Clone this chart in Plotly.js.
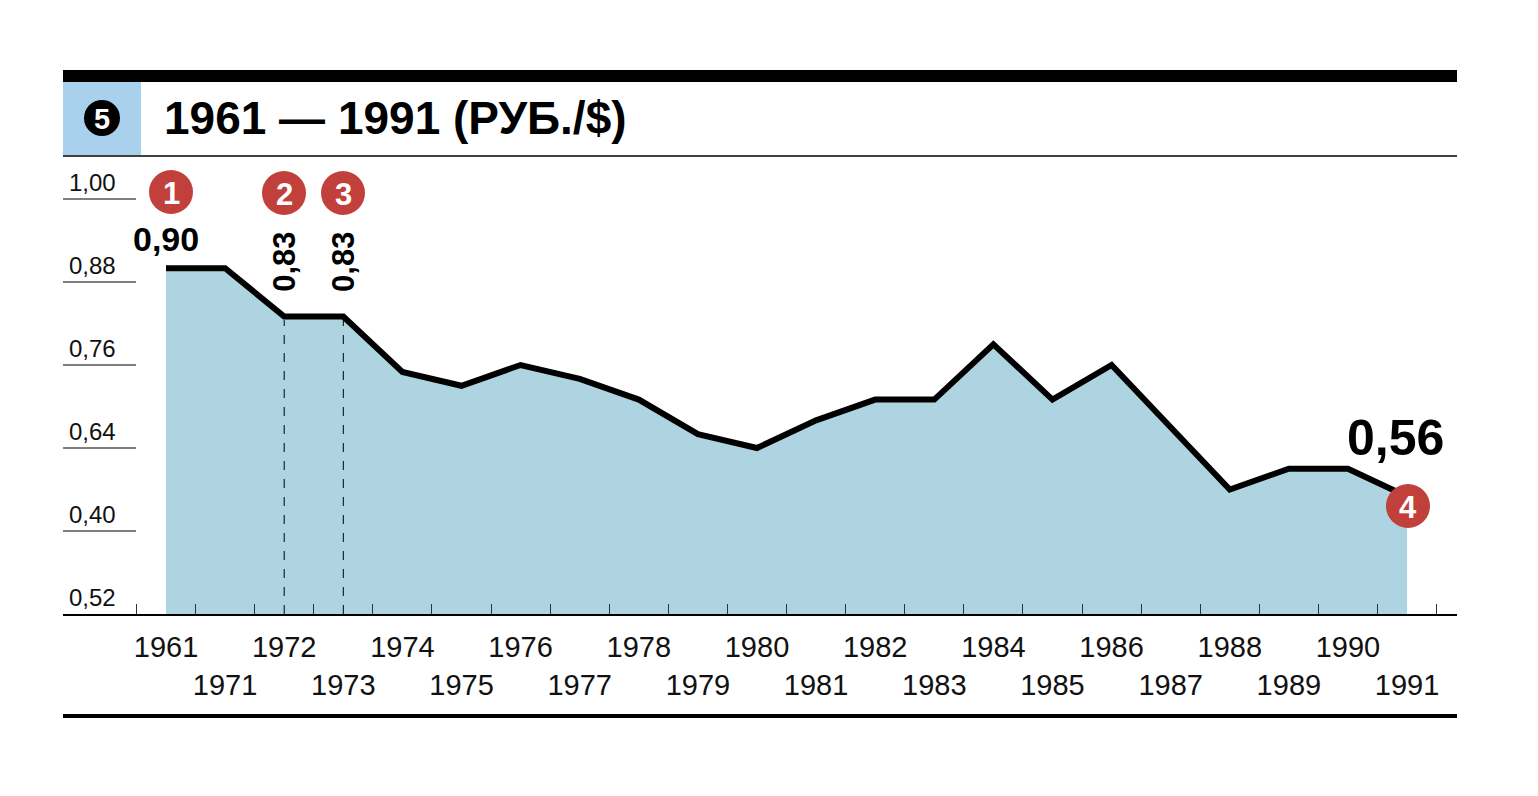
<!DOCTYPE html>
<html>
<head>
<meta charset="utf-8">
<script src="https://cdn.plot.ly/plotly-3.0.1.min.js"></script>
<style>
  html, body { margin: 0; padding: 0; background: #fff; }
  #chart { width: 1538px; height: 796px; }
</style>
</head>
<body>
<div id="chart"></div>
<script>
const years = ['1961', '1971', '1972', '1973', '1974', '1975', '1976', '1977', '1978', '1979', '1980',
               '1981', '1982', '1983', '1984', '1985', '1986', '1987', '1988', '1989', '1990', '1991'];
const rates = [0.90, 0.90, 0.83, 0.83, 0.75, 0.73, 0.76, 0.74, 0.71, 0.66, 0.64,
               0.68, 0.71, 0.71, 0.79, 0.71, 0.76, 0.67, 0.58, 0.61, 0.61, 0.57];

// y labels as printed in the source (the last two are swapped there)
const yTickVals = [1.00, 0.88, 0.76, 0.64, 0.52, 0.40];
const yTickText = ['1,00', '0,88', '0,76', '0,64', '0,40', '0,52'];

const badgeYears = ['1961', '1972', '1973', '1991'];
const badgeText = ['1', '2', '3', '4'];
const markedYears = ['1972', '1973'];

const titleText = '1961 — 1991 (РУБ./$)';
const sectionNo = '5';

document.addEventListener('DOMContentLoaded', () => {
    const W = 1538, H = 796;
    const L = 63, R = 1457, T = 160, B = 614;
    const px = x => (x - L) / (R - L);
    const py = y => (B - y) / (B - T);

    const FONT = '"Liberation Sans", Arial, sans-serif';
    const RED = '#c1403c';
    const FILL = '#afd4e1';

    const idx = y => years.indexOf(y);

    const trace = {
        x: years,
        y: rates,
        type: 'scatter',
        mode: 'lines',
        fill: 'tozeroy',
        fillcolor: FILL,
        line: { color: '#000', width: 6 },
        hoverinfo: 'skip'
    };

    const shapes = [];
    const annotations = [];
    const note = (o) => annotations.push(Object.assign({ showarrow: false, xanchor: 'center', yanchor: 'middle' }, o));

    // header
    shapes.push({ type: 'rect', xref: 'paper', yref: 'paper', x0: px(63), x1: px(1457), y0: py(82), y1: py(70),
                  fillcolor: '#000', line: { width: 0 } });
    shapes.push({ type: 'rect', xref: 'paper', yref: 'paper', x0: px(63), x1: px(141), y0: py(155), y1: py(82),
                  fillcolor: '#a9d0ec', line: { width: 0 } });
    shapes.push({ type: 'line', xref: 'paper', yref: 'paper', x0: px(63), x1: px(1457), y0: py(156), y1: py(156),
                  line: { color: '#000', width: 1.5 } });
    shapes.push({ type: 'circle', xref: 'paper', yref: 'paper', xsizemode: 'pixel', ysizemode: 'pixel',
                  xanchor: px(102), yanchor: py(118), x0: -18, x1: 18, y0: -18, y1: 18,
                  fillcolor: '#000', line: { width: 0 } });
    note({ xref: 'paper', yref: 'paper', x: px(102), y: py(119), text: '<b>' + sectionNo + '</b>',
           font: { family: FONT, size: 29, color: '#fff' } });
    note({ xref: 'paper', yref: 'paper', x: px(162), y: py(118), xanchor: 'left',
           text: '<b>' + titleText + '</b>', font: { family: FONT, size: 46, color: '#000' } });

    // bottom rule
    shapes.push({ type: 'line', xref: 'paper', yref: 'paper', x0: px(63), x1: px(1457), y0: py(716), y1: py(716),
                  line: { color: '#000', width: 4 } });

    // short y grid stubs + labels above them
    yTickVals.forEach((v, i) => {
        if (i < yTickVals.length - 1) {
            shapes.push({ type: 'line', xref: 'paper', yref: 'y', x0: 0, x1: px(136), y0: v, y1: v,
                          line: { color: '#000', width: 1 } });
        }
        note({ xref: 'paper', yref: 'y', x: px(67), y: v, xanchor: 'left',
               yshift: 17, text: yTickText[i], font: { family: FONT, size: 24, color: '#111' } });
    });

    // dashed markers for 1972 / 1973
    markedYears.forEach(y => {
        shapes.push({ type: 'line', xref: 'x', yref: 'y', x0: idx(y), x1: idx(y), y0: 0.40, y1: rates[idx(y)] - 0.005,
                      layer: 'above', line: { color: '#000', width: 1, dash: 'dash' } });
    });

    // red numbered badges
    const badgePos = [[171, 192], [284, 193], [343, 193], [1408, 506]];
    badgeYears.forEach((y, i) => {
        const [bx, by] = badgePos[i];
        shapes.push({ type: 'circle', xref: 'paper', yref: 'paper', xsizemode: 'pixel', ysizemode: 'pixel',
                      xanchor: px(bx), yanchor: py(by), x0: -22, x1: 22, y0: -22, y1: 22,
                      layer: 'above', fillcolor: RED, line: { width: 0 } });
        note({ xref: 'paper', yref: 'paper', x: px(bx), y: py(by + 1), text: '<b>' + badgeText[i] + '</b>',
               font: { family: FONT, size: 31, color: '#fff' } });
    });

    // value labels
    note({ xref: 'x', yref: 'y', x: idx('1961'), y: rates[idx('1961')], yshift: 29,
           text: '<b>0,90</b>', font: { family: FONT, size: 34, color: '#000' } });
    markedYears.forEach(y => {
        note({ xref: 'x', yref: 'y', x: idx(y), y: rates[idx(y)], yshift: 55, textangle: -90,
               text: '<b>0,83</b>', font: { family: FONT, size: 31, color: '#000' } });
    });
    note({ xref: 'x', yref: 'y', x: idx('1991'), y: rates[idx('1991')], xshift: -12, yshift: 58,
           text: '<b>0,56</b>', font: { family: FONT, size: 50, color: '#000' } });

    const layout = {
        width: W, height: H,
        margin: { l: L, r: W - R, t: T, b: H - B, pad: 0 },
        paper_bgcolor: '#fff', plot_bgcolor: '#fff',
        showlegend: false,
        xaxis: {
            type: 'category',
            range: [-1.743, 21.845],
            tickmode: 'array',
            tickvals: years,
            ticktext: years.map((y, i) => i % 2 ? '<br>' + y : y),
            tickangle: 0,
            ticklabelstandoff: 7,
            tickson: 'boundaries',
            ticks: 'inside', ticklen: 10, tickwidth: 1, tickcolor: '#333',
            showline: true, linecolor: '#000', linewidth: 1.5,
            showgrid: false, zeroline: false,
            tickfont: { family: '"Liberation Sans Narrow", "Liberation Sans", sans-serif', size: 29, color: '#111' }
        },
        yaxis: {
            range: [0.40, 1.0564],
            showticklabels: false, showgrid: false, zeroline: false, showline: false, ticks: ''
        },
        shapes: shapes,
        annotations: annotations
    };

    Plotly.newPlot('chart', [trace], layout, { staticPlot: true, displayModeBar: false });
});
</script>
</body>
</html>
